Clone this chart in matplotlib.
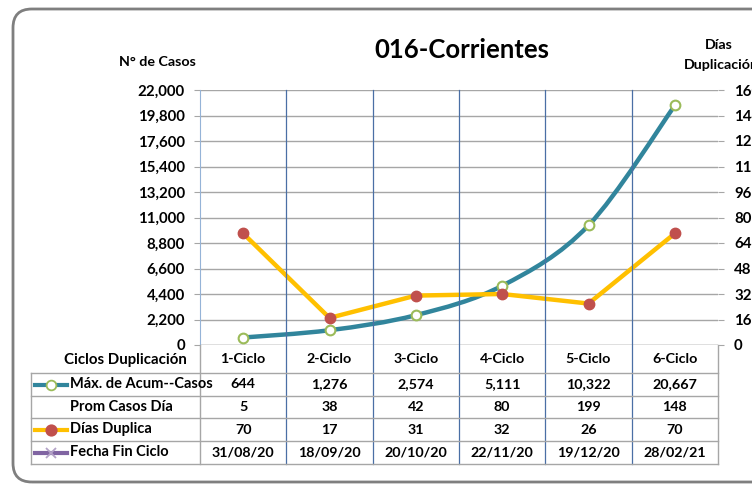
import matplotlib
matplotlib.use("Agg")
import matplotlib.pyplot as plt
from matplotlib.path import Path
from matplotlib.patches import PathPatch, FancyBboxPatch
from matplotlib.lines import Line2D
import matplotlib.transforms as mtransforms

plt.rcParams['font.family'] = ['Lato', 'DejaVu Sans']

categories = ["1-Ciclo", "2-Ciclo", "3-Ciclo", "4-Ciclo", "5-Ciclo", "6-Ciclo"]
max_casos = [644, 1276, 2574, 5111, 10322, 20667]
prom_casos = [5, 38, 42, 80, 199, 148]
dias_duplica = [70, 17, 31, 32, 26, 70]
fecha_fin = ["31/08/20", "18/09/20", "20/10/20", "22/11/20", "19/12/20", "28/02/21"]
left_ticks = [0, 2200, 4400, 6600, 8800, 11000, 13200, 15400, 17600, 19800, 22000]
right_ticks = [0, 16, 32, 48, 64, 80, 96, 112, 128, 144, 160]

W, H = 752, 487
fig = plt.figure(figsize=(W / 100, H / 100), dpi=100)

def fx(x):
    return x / W

def fy(y):
    return 1 - y / H

# outer rounded border
border = FancyBboxPatch((fx(13), fy(482)), fx(800) - fx(13), fy(9) - fy(482),
                        boxstyle="round,pad=0,rounding_size=0.025",
                        transform=fig.transFigure, fill=False,
                        edgecolor="#7f7f7f", linewidth=2.0, mutation_aspect=W / H)
fig.patches.append(border)

ax_l, ax_r, ax_t, ax_b = 200, 718, 90, 345
ax = fig.add_axes([fx(ax_l), fy(ax_b), fx(ax_r) - fx(ax_l), fy(ax_t) - fy(ax_b)])
ax.set_facecolor("none")
n = len(categories)
ax.set_xlim(-0.5, n - 0.5)
ax.set_ylim(0, 22000)
ax.set_yticks(left_ticks)
ax.set_yticklabels([f"{v:,}" for v in left_ticks], fontsize=10.8, fontweight="bold")
ax.set_xticks([])
ax.tick_params(axis="y", length=4.3, width=0.8, color="#a6a6a6", pad=6.5)
for s in ["top", "right", "bottom"]:
    ax.spines[s].set_visible(False)
ax.spines["left"].set_color("#95b3d7")
ax.yaxis.grid(True, color="#a6a6a6", linewidth=1.0)
ax.set_axisbelow(True)
ax.axhline(0, color="#a6a6a6", linewidth=1.0)

ax2 = ax.twinx()
ax2.set_ylim(0, 160)
ax2.set_yticks(right_ticks)
ax2.set_yticklabels([str(v) for v in right_ticks], fontsize=10.8, fontweight="bold")
ax2.tick_params(axis="y", length=4.3, width=0.8, color="#a6a6a6", pad=7.2)
for s in ["top", "left", "bottom", "right"]:
    ax2.spines[s].set_visible(False)

# vertical category separators through plot + table
bt = mtransforms.blended_transform_factory(ax.transData, fig.transFigure)
for i in range(1, n):
    fig.add_artist(Line2D([i - 0.5, i - 0.5], [fy(ax_t), fy(464)], transform=bt,
                          color="#4a6fa5", linewidth=0.9))
fig.add_artist(Line2D([-0.5, -0.5], [fy(ax_b), fy(464)], transform=bt,
                      color="#a6a6a6", linewidth=1.0))
fig.add_artist(Line2D([n - 0.5, n - 0.5], [fy(ax_b), fy(464)], transform=bt,
                      color="#a6a6a6", linewidth=1.0))

# smoothed blue series (Bezier through data points)
xs = list(range(n))
pts = list(zip(xs, max_casos))
verts = [pts[0]]
codes = [Path.MOVETO]
for i in range(n - 1):
    p0 = pts[i - 1] if i > 0 else pts[i]
    p1 = pts[i]
    p2 = pts[i + 1]
    p3 = pts[i + 2] if i + 2 < n else pts[i + 1]
    c1 = (p1[0] + (p2[0] - p0[0]) / 6, p1[1] + (p2[1] - p0[1]) / 6)
    c2 = (p2[0] - (p3[0] - p1[0]) / 6, p2[1] - (p3[1] - p1[1]) / 6)
    verts += [c1, c2, p2]
    codes += [Path.CURVE4] * 3
ax.add_patch(PathPatch(Path(verts, codes), facecolor="none", edgecolor="#31859c",
                       linewidth=3.2, capstyle="round", zorder=3))
ax.plot(xs, max_casos, linestyle="none", marker="o", markersize=7,
        markerfacecolor="white", markeredgecolor="#9bbb59", markeredgewidth=1.5, zorder=4)

ax2.plot(xs, dias_duplica, color="#ffc000", linewidth=3.2, marker="o", markersize=7.5,
         markerfacecolor="#c0504d", markeredgecolor="#c0504d", zorder=4)

# texts
fig.text(fx(462), fy(50), "016-Corrientes", ha="center", va="center",
         fontsize=18.5, fontweight="bold")
fig.text(fx(157), fy(62), "N° de Casos", ha="center", va="center",
         fontsize=10.3, fontweight="bold")
fig.text(fx(719), fy(45), "Días", ha="center", va="center", fontsize=10.3, fontweight="bold")
fig.text(fx(684), fy(65), "Duplicación", ha="left", va="center", fontsize=10.3, fontweight="bold")

# table
tl = 31
row_lines = [373, 396, 418, 441, 464]
for y in row_lines:
    fig.add_artist(Line2D([fx(tl), fx(ax_r)], [fy(y), fy(y)], transform=fig.transFigure,
                          color="#a6a6a6", linewidth=1.0))
fig.add_artist(Line2D([fx(tl), fx(tl)], [fy(373), fy(464)], transform=fig.transFigure,
                      color="#a6a6a6", linewidth=1.0))

fig.text(fx(187), fy(360), "Ciclos Duplicación", ha="right", va="center",
         fontsize=10.8, fontweight="bold")
for i, c in enumerate(categories):
    fig.text(i, fy(359), c, transform=bt, ha="center", va="center", fontsize=10.3, fontweight="bold")

rows = [
    ("Máx. de Acum--Casos", [f"{v:,}" for v in max_casos]),
    ("Prom Casos Día", [str(v) for v in prom_casos]),
    ("Días Duplica", [str(v) for v in dias_duplica]),
    ("Fecha Fin Ciclo", fecha_fin),
]
for r, (label, vals) in enumerate(rows):
    yc = (row_lines[r] + row_lines[r + 1]) / 2
    fig.text(fx(70), fy(yc), label, ha="left", va="center", fontsize=10.5, fontweight="bold")
    for i, v in enumerate(vals):
        fig.text(i, fy(yc), v, transform=bt, ha="center", va="center",
                 fontsize=10.3, fontweight="bold")

# legend keys
def key(yc, lc, mk, mfc, mec, ms):
    fig.add_artist(Line2D([fx(35), fx(67)], [fy(yc), fy(yc)], transform=fig.transFigure,
                          color=lc, linewidth=3))
    fig.add_artist(Line2D([fx(51)], [fy(yc)], transform=fig.transFigure, marker=mk,
                          markersize=ms, markerfacecolor=mfc, markeredgecolor=mec,
                          markeredgewidth=1.3, linestyle="none"))

key((row_lines[0] + row_lines[1]) / 2, "#31859c", "o", "white", "#9bbb59", 7)
key((row_lines[2] + row_lines[3]) / 2, "#ffc000", "o", "#c0504d", "#c0504d", 7.5)
key((row_lines[3] + row_lines[4]) / 2, "#8064a2", "x", "#b3a2c7", "#b3a2c7", 7)

fig.savefig("out.png", dpi=100)
